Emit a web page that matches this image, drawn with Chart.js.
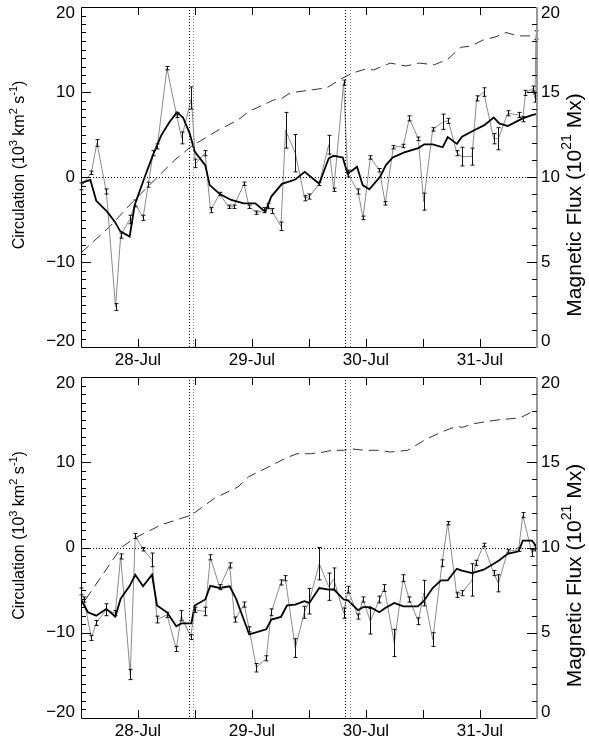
<!DOCTYPE html>
<html>
<head>
<meta charset="utf-8">
<script src="https://cdn.jsdelivr.net/npm/chart.js@4.4.1/dist/chart.umd.min.js"></script>
<style>
    body { margin: 0; background: #fff; }
    .painel { position: absolute; left: 0; width: 589px; }
</style>
</head>
<body>
<div class="painel" style="top:0;height:370px"><canvas id="graficoTopo"></canvas></div>
<div class="painel" style="top:370px;height:371px"><canvas id="graficoBase"></canvas></div>
<script>
// Eixo x: dias de julho
const dias = [28, 29, 30, 31];
const rotulosDias = ['28-Jul', '29-Jul', '30-Jul', '31-Jul'];
const linhasVerticais = [28.445, 28.482, 29.813, 29.862];
// Rótulos dos eixos y
const rotulosCirc = [-20, -10, 0, 10, 20];
const rotulosFluxo = [0, 5, 10, 15, 20];

// Painel de cima: circulação (com barras de erro)
const topoTempo = [27.504, 27.590, 27.640, 27.722, 27.803, 27.848, 27.927, 27.976, 28.044, 28.090,
    28.132, 28.169, 28.254, 28.338, 28.383, 28.469, 28.504, 28.588, 28.636, 28.717,
    28.794, 28.838, 28.930, 28.974, 29.039, 29.108, 29.140, 29.175, 29.254, 29.294,
    29.380, 29.462, 29.503, 29.590, 29.673, 29.717, 29.804, 29.839, 29.930, 29.974,
    30.038, 30.117, 30.169, 30.239, 30.327, 30.380, 30.459, 30.506, 30.585, 30.678,
    30.722, 30.798, 30.842, 30.930, 30.971, 31.032, 31.120, 31.161, 31.243, 31.339,
    31.375, 31.399, 31.462, 31.482, 31.491];
const topoCirc = [-1.1, 0.5, 4.0, -1.7, -15.3, -6.9, -5.0, -3.1, -4.8, -0.9,
    2.8, 3.6, 12.8, 7.3, 4.6, 9.3, 1.6, 2.8, -3.9, -2.0,
    -3.5, -3.5, -0.8, -3.5, -4.2, -3.9, -3.4, -4.0, -5.8, 5.5,
    2.8, -2.5, -2.3, -0.8, 3.8, -1.5, 11.1, 0.4, -1.7, -4.8,
    2.3, 0.8, -3.1, 3.5, 3.65, 6.9, 4.5, -2.9, 5.6, 6.5,
    6.6, 2.8, 2.4, 2.4, 9.25, 10.0, 4.5, 4.5, 7.5, 7.3,
    6.8, 9.9, 10.4, 9.3, 16.7];
const topoErro = [0.4, 0.2, 0.4, 0.3, 0.4, 0.3, 0.5, 0.4, 0.3, 0.3,
    0.3, 0.3, 0.2, 0.3, 0.7, 1.3, 0.5, 0.3, 0.3, 0.2,
    0.2, 0.2, 0.2, 0.2, 0.2, 0.3, 0.3, 0.3, 0.5, 2.1,
    2.2, 0.3, 0.3, 0.2, 1.1, 0.2, 0.3, 0.4, 0.3, 0.2,
    0.2, 0.2, 0.2, 0.2, 0.2, 0.3, 0.2, 1.0, 0.2, 0.9,
    0.3, 0.3, 1.1, 1.0, 0.3, 0.5, 0.6, 1.3, 0.3, 0.3,
    0.3, 0.3, 0.3, 0.5, 0.5];
// Painel de cima: média (linha grossa)
const topoTempoMedia = [27.503, 27.582, 27.634, 27.731, 27.796, 27.845, 27.927, 27.971, 28.059, 28.132,
    28.204, 28.278, 28.342, 28.395, 28.454, 28.497, 28.590, 28.629, 28.717, 28.818,
    28.927, 29.029, 29.117, 29.169, 29.263, 29.380, 29.462, 29.590, 29.673, 29.717,
    29.796, 29.839, 29.921, 29.971, 30.029, 30.125, 30.175, 30.234, 30.336, 30.459,
    30.511, 30.585, 30.673, 30.717, 30.798, 30.842, 30.941, 31.038, 31.120, 31.169,
    31.243, 31.331, 31.375, 31.462, 31.491];
const topoMedia = [-0.7, -0.35, -2.8, -4.1, -5.25, -6.4, -7.0, -3.3, 0, 2.6,
    4.9, 6.5, 7.6, 7.0, 5.1, 3.0, 1.4, -0.95, -2.0, -2.7,
    -3.1, -3.1, -4.1, -2.3, -0.8, -0.3, 0.6, -0.8, 2.2, 2.5,
    2.3, 0.35, 1.2, -0.95, -1.45, 0.05, 1.4, 2.3, 2.9, 3.4,
    3.85, 3.85, 3.5, 4.7, 3.9, 4.75, 5.45, 6.1, 7.0, 6.3,
    6.0, 6.6, 6.9, 7.3, 7.4];
// Painel de cima: fluxo magnético (tracejado, eixo direito)
const topoTempoFluxo = [27.503, 27.752, 27.941, 28.146, 28.322, 28.468, 28.702, 28.877, 28.971, 29.190,
    29.263, 29.336, 29.497, 29.658, 29.789, 29.877, 29.994, 30.068, 30.213, 30.351,
    30.468, 30.599, 30.717, 30.833, 30.921, 31.024, 31.140, 31.228, 31.331, 31.462, 31.491];
const topoFluxo = [5.55, 7.08, 8.45, 9.83, 11.0, 11.8, 12.75, 13.35, 13.85, 14.53,
    14.63, 14.95, 15.1, 15.25, 15.8, 16.1, 16.35, 16.3, 16.7, 16.53,
    16.7, 16.6, 16.93, 17.63, 17.7, 18.05, 18.25, 18.5, 18.3, 18.3, 18.3];

// Painel de baixo
const baseTempo = [27.500, 27.526, 27.590, 27.634, 27.722, 27.801, 27.848, 27.932, 27.976, 28.044,
    28.123, 28.167, 28.254, 28.336, 28.380, 28.462, 28.497, 28.590, 28.634, 28.717,
    28.804, 28.848, 28.932, 28.976, 29.038, 29.125, 29.169, 29.254, 29.292, 29.380,
    29.459, 29.503, 29.590, 29.673, 29.717, 29.804, 29.842, 29.930, 29.974, 30.038,
    30.117, 30.161, 30.248, 30.327, 30.380, 30.459, 30.506, 30.585, 30.667, 30.717,
    30.796, 30.842, 30.930, 30.965, 31.032, 31.120, 31.161, 31.243, 31.339, 31.375,
    31.456, 31.485];
const baseCirc = [-5.15, -6.1, -10.6, -8.85, -7.3, -7.7, -1.05, -14.9, 1.35, -0.2,
    -1.45, -8.45, -7.9, -11.9, -8.0, -10.5, -7.3, -7.5, -1.15, -4.65,
    -2.1, -8.45, -6.7, -9.6, -14.1, -13.0, -7.6, -4.1, -3.6, -11.8,
    -7.6, -6.3, -1.9, -4.6, -3.7, -7.7, -4.95, -8.1, -6.1, -8.65,
    -6.1, -4.75, -11.2, -3.6, -6.1, -8.65, -5.35, -10.8, -1.85, 2.85,
    -5.55, -5.35, -3.8, -1.8, 0.3, -3.0, -4.2, -0.45, -0.25, 3.8,
    -0.65, -0.1];
const baseErro = [0.4, 0.3, 0.3, 0.3, 0.7, 0.3, 0.3, 0.6, 0.3, 0.2,
    0.8, 0.4, 0.3, 0.3, 0.6, 0.3, 0.3, 0.5, 0.3, 0.3,
    0.3, 0.3, 0.3, 0.3, 0.5, 0.3, 0.4, 0.3, 0.3, 1.1,
    0.7, 1.5, 1.9, 1.6, 1.3, 0.6, 0.4, 0.3, 0.3, 1.5,
    0.4, 0.4, 1.6, 0.4, 0.3, 0.4, 1.5, 0.8, 0.4, 0.2,
    0.3, 0.3, 1.9, 0.3, 0.2, 0.3, 1.0, 0.2, 0.2, 0.3,
    0.4, 0.3];
const baseTempoMedia = [27.500, 27.561, 27.634, 27.722, 27.801, 27.848, 27.927, 27.976, 28.044, 28.123,
    28.167, 28.254, 28.336, 28.380, 28.468, 28.497, 28.590, 28.634, 28.717, 28.804,
    28.860, 28.976, 29.125, 29.169, 29.254, 29.307, 29.380, 29.459, 29.503, 29.590,
    29.673, 29.717, 29.804, 29.842, 29.930, 29.974, 30.038, 30.117, 30.169, 30.248,
    30.327, 30.454, 30.506, 30.585, 30.658, 30.717, 30.796, 30.842, 30.930, 31.032,
    31.120, 31.169, 31.243, 31.339, 31.375, 31.456, 31.491];
const baseMedia = [-6.1, -7.6, -8.0, -7.2, -8.1, -6.0, -4.5, -3.2, -4.55, -3.2,
    -6.8, -7.6, -9.25, -8.9, -8.9, -6.8, -6.1, -4.5, -4.75, -4.55,
    -6.0, -10.2, -9.6, -8.45, -8.15, -6.8, -6.7, -6.3, -6.5, -4.75,
    -4.95, -4.9, -6.1, -6.2, -7.35, -7.0, -7.0, -7.6, -7.1, -6.5,
    -6.9, -6.9, -6.3, -4.75, -3.85, -3.85, -2.5, -2.7, -3.0, -2.6,
    -1.9, -1.5, -0.75, -0.45, 0.8, 0.8, 0.2];
const baseTempoFluxo = [27.540, 27.854, 27.971, 28.204, 28.468, 28.673, 28.877, 28.971, 29.190, 29.292,
    29.395, 29.511, 29.614, 29.702, 29.804, 29.877, 29.994, 30.111, 30.213, 30.366,
    30.526, 30.673, 30.789, 30.848, 30.936, 31.053, 31.175, 31.351, 31.439, 31.491];
const baseFluxo = [6.95, 10.0, 10.55, 11.33, 11.9, 12.9, 13.55, 14.15, 14.88, 15.23,
    15.5, 15.5, 15.58, 15.7, 15.7, 15.78, 15.7, 15.7, 15.6, 15.7,
    16.35, 16.8, 17.1, 17.05, 17.25, 17.38, 17.5, 17.6, 17.9, 18.05];

const tituloEsquerdo = [['Circulation (10', 0], ['3', 1], [' km', 0], ['2', 1], [' s', 0], ['-1', 1], [')', 0]];
const tituloDireito = [['Magnetic Flux (10', 0], ['21', 1], [' Mx)', 0]];

const FONTE = '"Liberation Sans", Arial, sans-serif';
Chart.defaults.font.family = FONTE;
Chart.defaults.font.size = 17;
Chart.defaults.color = '#000';

function pares(tempos, valores) {
    return tempos.map((t, i) => ({ x: t, y: valores[i] }));
}

function linha(ctx, x1, y1, x2, y2) {
    ctx.beginPath();
    ctx.moveTo(x1, y1);
    ctx.lineTo(x2, y2);
    ctx.stroke();
}

// Título vertical com expoentes
function desenharTitulo(ctx, partes, cx, cy, tam, tamSup, subida) {
    ctx.save();
    ctx.translate(cx, cy);
    ctx.rotate(-Math.PI / 2);
    ctx.fillStyle = '#000';
    ctx.textBaseline = 'middle';
    ctx.textAlign = 'left';
    let total = 0;
    partes.forEach(p => {
        ctx.font = (p[1] ? tamSup : tam) + 'px ' + FONTE;
        total += ctx.measureText(p[0]).width;
    });
    let pos = -total / 2;
    partes.forEach(p => {
        ctx.font = (p[1] ? tamSup : tam) + 'px ' + FONTE;
        ctx.fillText(p[0], pos, p[1] ? -subida : 0);
        pos += ctx.measureText(p[0]).width;
    });
    ctx.restore();
}

// Plugin: linhas pontilhadas, barras de erro, moldura com marcas internas, rótulos e títulos
function extras(tempos, valores, erros) {
    return {
        id: 'extras',
        afterDatasetsDraw(chart) {
            const { ctx, chartArea: a, scales: { x, y, yFluxo } } = chart;
            ctx.save();
            ctx.lineWidth = 1;

            // linha do zero
            ctx.setLineDash([1, 2]);
            ctx.strokeStyle = '#000';
            const y0 = Math.round(y.getPixelForValue(0)) + 0.5;
            linha(ctx, a.left, y0, a.right, y0);

            // linhas verticais
            linhasVerticais.forEach((t, i) => {
                ctx.strokeStyle = i % 2 ? '#888' : '#000';
                const px = Math.round(x.getPixelForValue(t)) + 0.5;
                linha(ctx, px, a.top, px, a.bottom);
            });

            // barras de erro
            ctx.setLineDash([]);
            ctx.strokeStyle = '#111';
            tempos.forEach((t, i) => {
                const px = Math.round(x.getPixelForValue(t)) + 0.5;
                const yA = y.getPixelForValue(valores[i] + erros[i]);
                const yB = y.getPixelForValue(valores[i] - erros[i]);
                linha(ctx, px, yA, px, yB);
                linha(ctx, px - 2, yA, px + 2, yA);
                linha(ctx, px - 2, yB, px + 2, yB);
            });

            // moldura
            ctx.strokeStyle = '#000';
            ctx.beginPath();
            ctx.moveTo(a.right, a.top + 0.5);
            ctx.lineTo(a.left + 0.5, a.top + 0.5);
            ctx.lineTo(a.left + 0.5, a.bottom + 0.5);
            ctx.lineTo(a.right, a.bottom + 0.5);
            ctx.stroke();
            ctx.strokeStyle = '#999';
            ctx.lineWidth = 2;
            linha(ctx, a.right, a.top, a.right, a.bottom + 1);
            ctx.lineWidth = 1;
            ctx.strokeStyle = '#000';

            // marcas do eixo esquerdo
            for (let v = -19; v <= 19; v++) {
                const py = Math.round(y.getPixelForValue(v)) + 0.5;
                linha(ctx, a.left, py, a.left + (v % 10 === 0 ? 10 : 5), py);
            }
            // marcas do eixo direito
            for (let f = 1; f <= 19; f++) {
                const py = Math.round(yFluxo.getPixelForValue(f)) + 0.5;
                linha(ctx, a.right, py, a.right - (f % 5 === 0 ? 10 : 5), py);
            }
            // marcas do eixo x (em cima e em baixo)
            for (let t = 28; t <= 31; t += 0.5) {
                const px = Math.round(x.getPixelForValue(t)) + 0.5;
                linha(ctx, px, a.bottom, px, a.bottom - 8);
                linha(ctx, px, a.top, px, a.top + 8);
            }
            ctx.restore();
        },
        afterDraw(chart) {
            const { ctx, chartArea: a, scales: { y, yFluxo } } = chart;
            ctx.save();
            ctx.font = '17px ' + FONTE;
            ctx.fillStyle = '#000';
            ctx.textBaseline = 'middle';
            // rótulos dos eixos y (os das pontas ficam um pouco para dentro)
            const ajuste = (i, n) => (i === 0 ? -6 : (i === n - 1 ? 6 : 0));
            ctx.textAlign = 'right';
            rotulosCirc.forEach((v, i) => {
                const texto = v < 0 ? '\u2212' + Math.abs(v) : String(v);
                ctx.fillText(texto, a.left - 6, y.getPixelForValue(v) + ajuste(i, rotulosCirc.length));
            });
            ctx.textAlign = 'left';
            rotulosFluxo.forEach((f, i) => {
                ctx.fillText(String(f), a.right + 4, yFluxo.getPixelForValue(f) + ajuste(i, rotulosFluxo.length));
            });
            ctx.restore();

            const meio = (a.top + a.bottom) / 2;
            desenharTitulo(ctx, tituloEsquerdo, 20, meio - 12, 16, 11, 6);
            desenharTitulo(ctx, tituloDireito, 575, meio + 28, 21, 14, 8);
        }
    };
}

function criarGrafico(id, s) {
    const ctx = document.getElementById(id);
    if (!ctx) return;

    new Chart(ctx, {
        type: 'line',
        data: {
            datasets: [
                {
                    label: 'Média',
                    data: pares(s.tempoMedia, s.media),
                    yAxisID: 'y',
                    borderColor: '#000',
                    borderWidth: 1.8
                },
                {
                    label: 'Circulação',
                    data: pares(s.tempo, s.circ),
                    yAxisID: 'y',
                    borderColor: '#8a8a8a',
                    borderWidth: 1
                },
                {
                    label: 'Fluxo',
                    data: pares(s.tempoFluxo, s.fluxo),
                    yAxisID: 'yFluxo',
                    borderColor: '#333',
                    borderWidth: 1,
                    borderDash: [10, 6]
                }
            ]
        },
        options: {
            responsive: true,
            maintainAspectRatio: false,
            animation: false,
            layout: { padding: { top: 7 } },
            elements: {
                point: { radius: 0 },
                line: { tension: 0 }
            },
            plugins: {
                legend: { display: false },
                tooltip: { enabled: false }
            },
            scales: {
                x: {
                    type: 'linear',
                    min: 27.5,
                    max: 31.5,
                    afterBuildTicks: escala => { escala.ticks = dias.map(d => ({ value: d })); },
                    afterFit: escala => {
                        escala.height = 23;
                        escala.paddingLeft = 0;
                        escala.paddingRight = 0;
                    },
                    ticks: {
                        autoSkip: false,
                        maxRotation: 0,
                        padding: 3,
                        callback: v => rotulosDias[dias.indexOf(v)]
                    },
                    grid: { display: false, drawTicks: false },
                    border: { display: false }
                },
                y: {
                    position: 'left',
                    min: -20,
                    max: 20,
                    afterFit: escala => {
                        escala.width = 81;
                        escala.paddingTop = 0;
                        escala.paddingBottom = 0;
                    },
                    ticks: { display: false, stepSize: 10 },
                    grid: { display: false, drawTicks: false },
                    border: { display: false }
                },
                yFluxo: {
                    position: 'right',
                    min: 0,
                    max: 20,
                    afterFit: escala => {
                        escala.width = 52;
                        escala.paddingTop = 0;
                        escala.paddingBottom = 0;
                    },
                    ticks: { display: false, stepSize: 5 },
                    grid: { display: false, drawTicks: false },
                    border: { display: false }
                }
            }
        },
        plugins: [extras(s.tempo, s.circ, s.erro)]
    });
}

document.addEventListener('DOMContentLoaded', function() {
    criarGrafico('graficoTopo', {
        tempo: topoTempo, circ: topoCirc, erro: topoErro,
        tempoMedia: topoTempoMedia, media: topoMedia,
        tempoFluxo: topoTempoFluxo, fluxo: topoFluxo
    });
    criarGrafico('graficoBase', {
        tempo: baseTempo, circ: baseCirc, erro: baseErro,
        tempoMedia: baseTempoMedia, media: baseMedia,
        tempoFluxo: baseTempoFluxo, fluxo: baseFluxo
    });
});
</script>
</body>
</html>
